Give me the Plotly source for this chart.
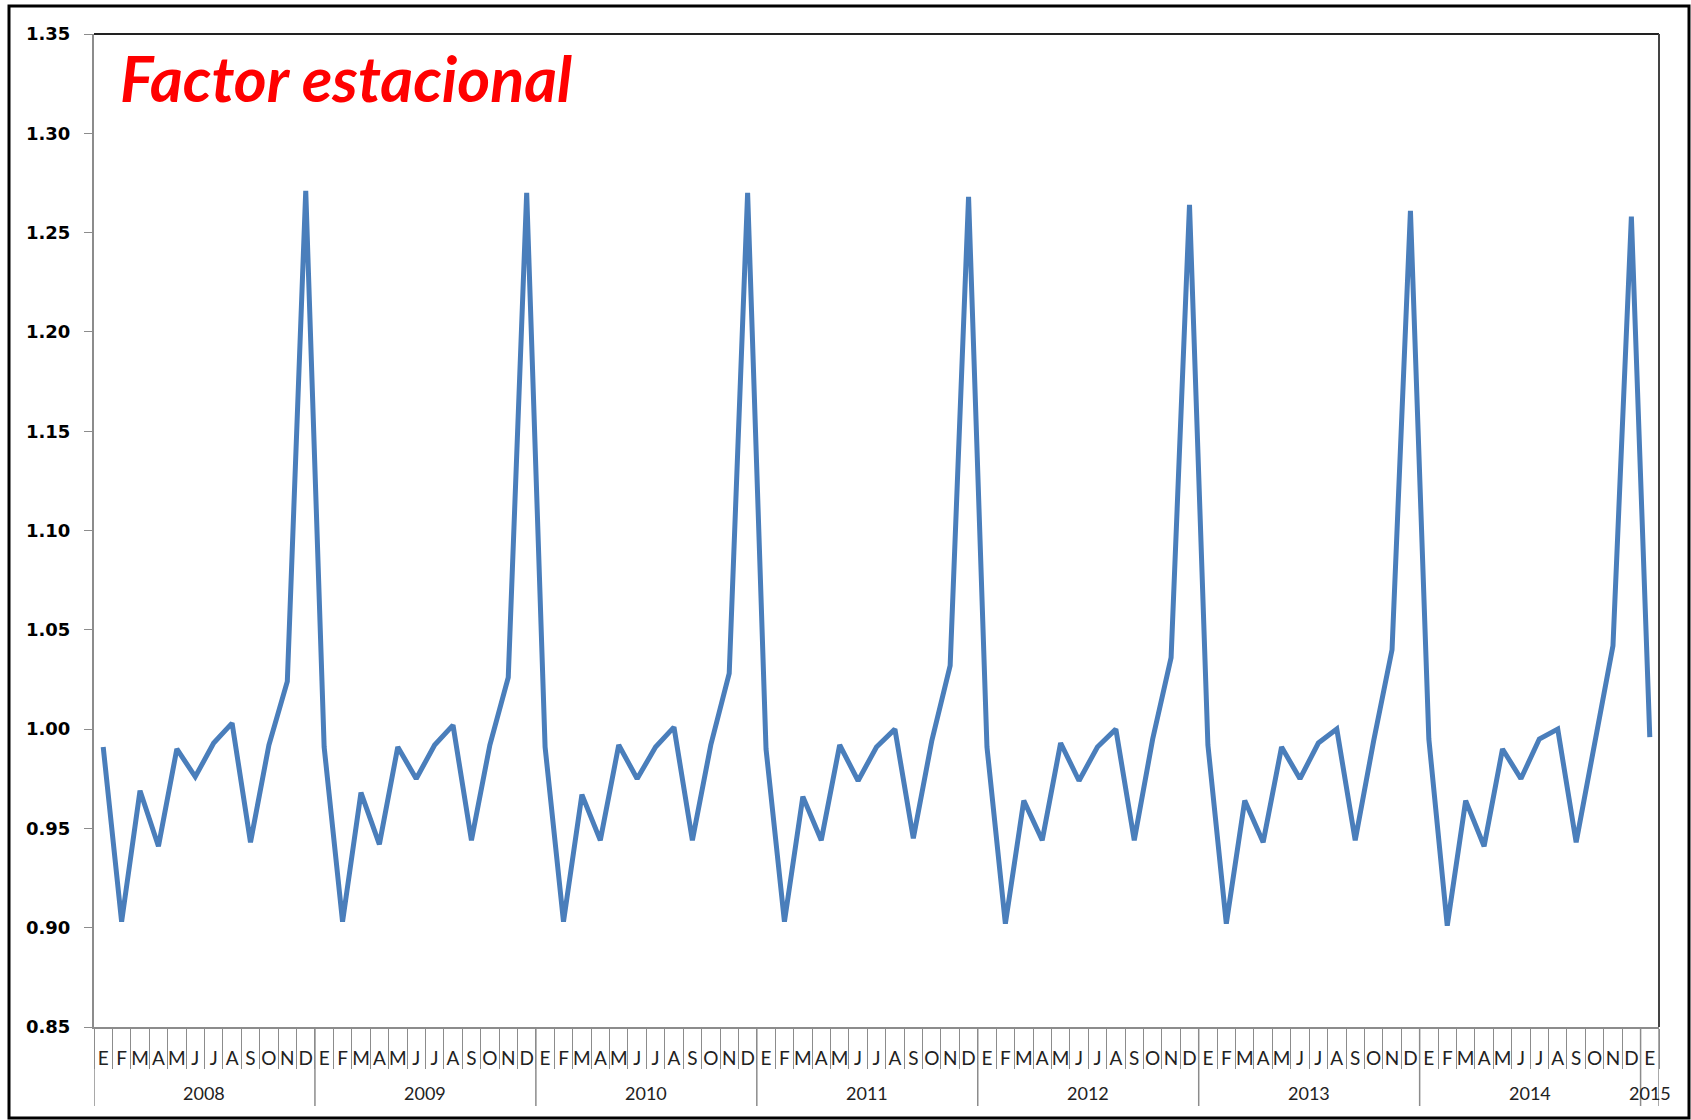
import plotly.graph_objects as go

years = ["2008", "2009", "2010", "2011", "2012", "2013", "2014", "2015"]
month_labels = ["E", "F", "M", "A", "M", "J", "J", "A", "S", "O", "N", "D"]

v2008 = [0.991, 0.903, 0.969, 0.941, 0.990, 0.976, 0.993, 1.003, 0.943, 0.992, 1.024, 1.271]
v2009 = [0.991, 0.903, 0.968, 0.942, 0.991, 0.975, 0.992, 1.002, 0.944, 0.992, 1.026, 1.270]
v2010 = [0.991, 0.903, 0.967, 0.944, 0.992, 0.975, 0.991, 1.001, 0.944, 0.992, 1.028, 1.270]
v2011 = [0.990, 0.903, 0.966, 0.944, 0.992, 0.974, 0.991, 1.000, 0.945, 0.994, 1.032, 1.268]
v2012 = [0.991, 0.902, 0.964, 0.944, 0.993, 0.974, 0.991, 1.000, 0.944, 0.995, 1.036, 1.264]
v2013 = [0.992, 0.902, 0.964, 0.943, 0.991, 0.975, 0.993, 1.000, 0.944, 0.994, 1.040, 1.261]
v2014 = [0.995, 0.901, 0.964, 0.941, 0.990, 0.975, 0.995, 1.000, 0.943, 0.992, 1.042, 1.258]
v2015 = [0.996]

values_by_year = [v2008, v2009, v2010, v2011, v2012, v2013, v2014, v2015]

# flatten into a monthly series (index = month number from Jan 2008)
y_vals, tick_text, year_start = [], [], []
for yr, vals in zip(years, values_by_year):
    year_start.append(len(y_vals))
    for i, v in enumerate(vals):
        y_vals.append(v)
        tick_text.append(month_labels[i])
n = len(y_vals)
x_idx = list(range(n))

fig = go.Figure()
fig.add_trace(go.Scatter(
    x=x_idx, y=y_vals, mode="lines",
    line=dict(color="#4A7EBB", width=5), hoverinfo="y",
))

W, H = 1691, 1120
L, R, T, B = 94, 32, 34, 93
PW, PH = W - L - R, H - T - B
AX = "#8C8C8C"

def py(px_below_axis):
    return -px_below_axis / PH

shapes = [
    # outer frame
    dict(type="rect", xref="paper", yref="paper", x0=-(L - 9) / PW, x1=1 + (R - 2) / PW,
         y0=-(B - 2) / PH, y1=1 + (T - 6) / PH,
         line=dict(color="black", width=3), fillcolor="rgba(0,0,0,0)", layer="below"),
    # plot area top and right borders
    dict(type="line", xref="paper", yref="paper", x0=0, x1=1, y0=1, y1=1,
         line=dict(color="#222222", width=2)),
    dict(type="line", xref="paper", yref="paper", x0=1, x1=1, y0=0, y1=1,
         line=dict(color="#444444", width=2)),
]
annotations = [
    dict(text="<b><i>Factor estacional</i></b>", xref="paper", yref="paper",
         x=(118 - L) / PW, y=1 - (38 - T) / PH, xanchor="left", yanchor="top",
         showarrow=False, font=dict(family="Lato", size=63, color="#FF0000")),
]
# year group dividers and labels
bounds = year_start + [n]
for k, yr in enumerate(years):
    s, e = bounds[k], bounds[k + 1]
    annotations.append(dict(text=yr, xref="x", yref="paper", x=(s + e - 1) / 2, y=py(66),
                            xanchor="center", yanchor="middle", showarrow=False,
                            font=dict(family="Lato", size=18, color="#222222")))
for b in bounds:
    shapes.append(dict(type="line", xref="x", yref="paper", x0=b - 0.5, x1=b - 0.5,
                       y0=0, y1=py(79), line=dict(color=AX, width=1.5)))

fig.update_layout(
    width=W, height=H,
    margin=dict(l=L, r=R, t=T, b=B, autoexpand=False),
    paper_bgcolor="white", plot_bgcolor="white",
    showlegend=False,
    xaxis=dict(
        range=[-0.5, n - 0.5],
        tickmode="array", tickvals=x_idx, ticktext=tick_text,
        showline=True, linecolor=AX, linewidth=2,
        ticks="", tickangle=0, ticklabelstandoff=13,
        minor=dict(ticks="outside", tick0=-0.5, dtick=1, ticklen=40, tickcolor=AX, tickwidth=1,
                   showgrid=False),
        tickfont=dict(family="Lato", size=19, color="#222222"),
        showgrid=False, zeroline=False, automargin=False,
    ),
    yaxis=dict(
        range=[0.85, 1.35], dtick=0.05, tick0=0.85, tickformat=".2f",
        showline=True, linecolor=AX, linewidth=2,
        ticks="outside", ticklen=8, tickcolor=AX, ticklabelstandoff=10,
        tickfont=dict(family="DejaVu Sans", size=18, color="black", weight="bold"),
        showgrid=False, zeroline=False, automargin=False,
    ),
    shapes=shapes,
    annotations=annotations,
)

fig.write_html("out.html", config={"displayModeBar": False},
               post_script="document.body.style.margin='0';")
